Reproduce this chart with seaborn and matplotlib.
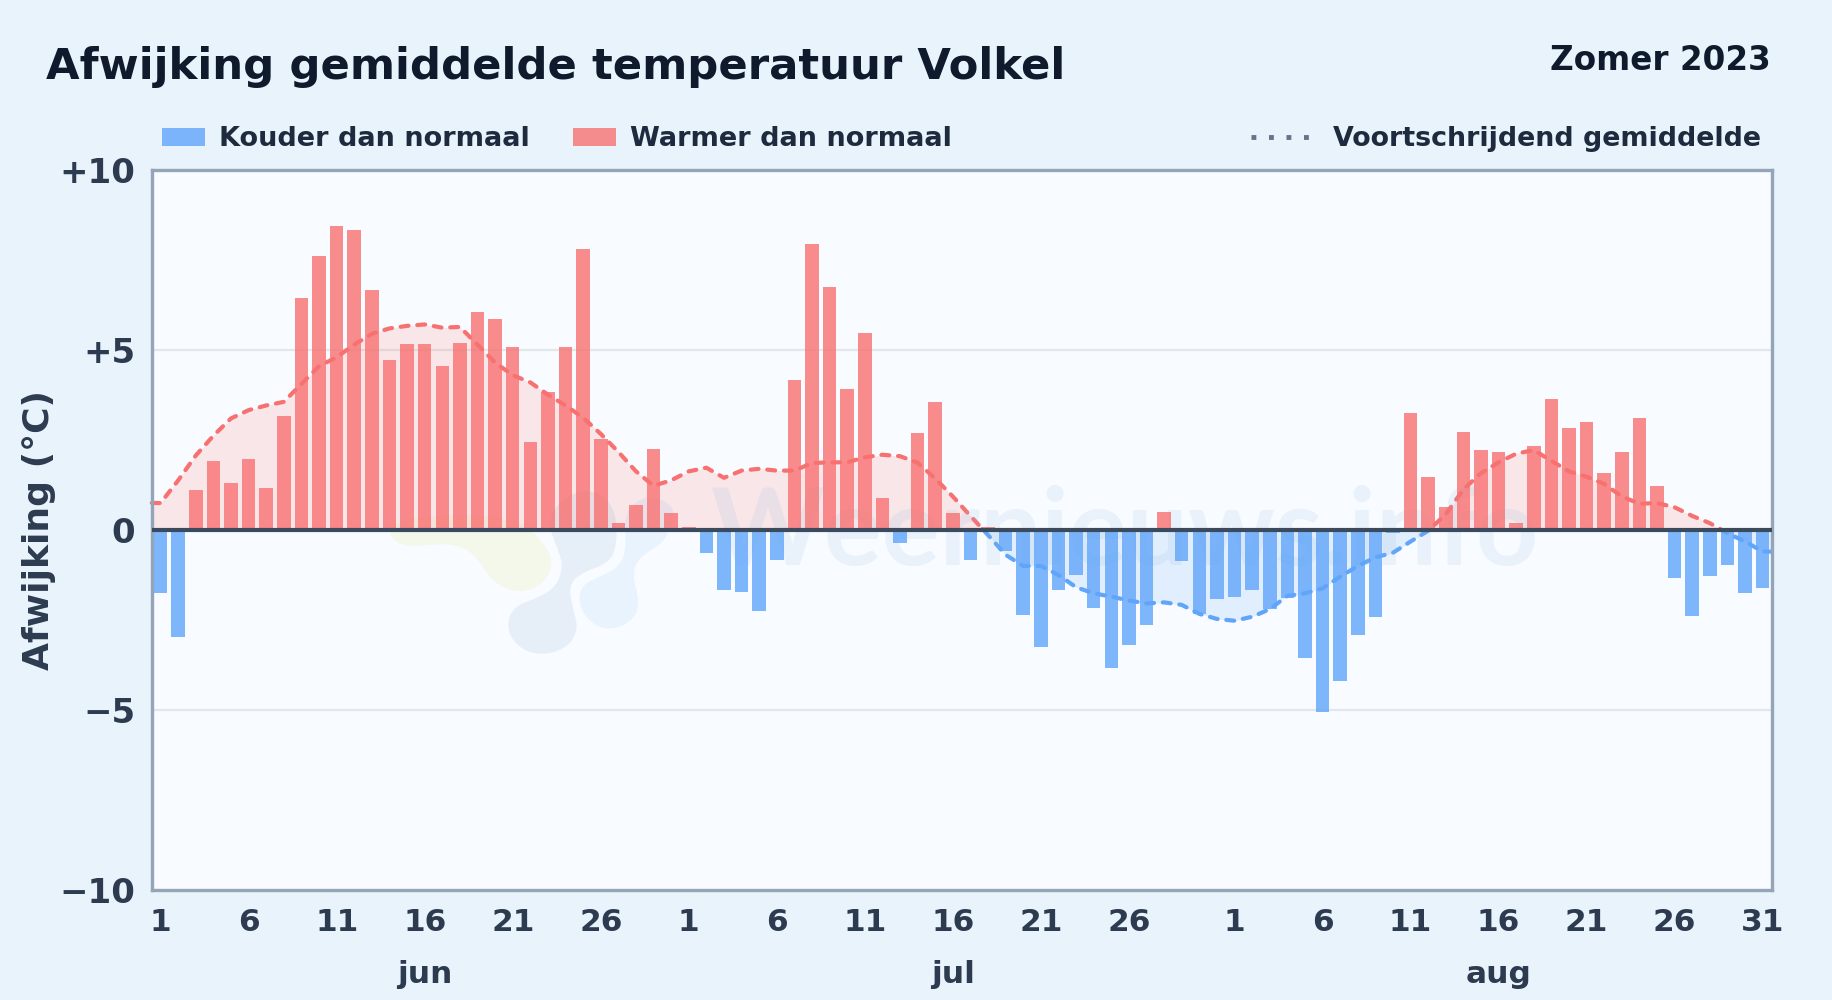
#!/usr/bin/env python

import numpy as np
import pandas as pd
import seaborn as sb
import matplotlib.pyplot as plt
from matplotlib.lines import Line2D
from matplotlib.patches import Patch, PathPatch, Rectangle
from matplotlib.path import Path

jun_values = [-1.74, -2.96, 1.11, 1.91, 1.31, 1.97, 1.17, 3.16, 6.45, 7.61,
              8.44, 8.33, 6.67, 4.72, 5.17, 5.17, 4.55, 5.2, 6.05, 5.86,
              5.08, 2.44, 3.83, 5.08, 7.81, 2.53, 0.2, 0.69, 2.25, 0.48]
jul_values = [0.08, -0.63, -1.66, -1.71, -2.24, -0.83, 4.17, 7.95, 6.75, 3.92,
              5.48, 0.89, -0.35, 2.7, 3.55, 0.48, -0.83, 0.08, -0.57, -2.35,
              -3.24, -1.66, -1.24, -2.16, -3.82, -3.19, -2.63, 0.5, -0.85, -2.33,
              -1.91]
aug_values = [-1.85, -1.66, -2.2, -1.9, -3.55, -5.05, -4.19, -2.91, -2.41, -0.09,
              3.25, 1.47, 0.63, 2.72, 2.22, 2.16, 0.2, 2.33, 3.64, 2.84,
              3.0, 1.59, 2.16, 3.11, 1.22, -1.32, -2.38, -1.27, -0.96, -1.74,
              -1.6]

jun_avg = [0.75, 1.38, 2.07, 2.62, 3.1, 3.33, 3.46, 3.56, 4.06, 4.55,
           4.8, 5.15, 5.45, 5.6, 5.67, 5.71, 5.62, 5.64, 5.15, 4.65,
           4.3, 4.1, 3.76, 3.46, 3.12, 2.67, 2.17, 1.63, 1.23, 1.38]
jul_avg = [1.63, 1.73, 1.45, 1.65, 1.7, 1.65, 1.65, 1.86, 1.88, 1.88,
           2.02, 2.09, 2.05, 1.87, 1.43, 0.93, 0.39, -0.14, -0.69, -1.0,
           -1.0, -1.25, -1.59, -1.76, -1.85, -1.96, -2.04, -2.01, -2.08, -2.33,
           -2.47]
aug_avg = [-2.52, -2.41, -2.2, -1.83, -1.76, -1.62, -1.3, -1.0, -0.76, -0.63,
           -0.32, -0.02, 0.44, 1.13, 1.58, 1.88, 2.12, 2.22, 1.92, 1.63,
           1.48, 1.28, 0.93, 0.73, 0.75, 0.63, 0.39, 0.19, -0.09, -0.32,
           -0.6]

month_names = ["jun", "jul", "aug"]
y_ticks = [-10, -5, 0, 5, 10]
y_labels = ["\u221210", "\u22125", "0", "+5", "+10"]

BG = "#e9f3fc"
RED = "#f87171"
BLUE = "#60a5fa"
TEXT = "#2d3b50"
DARK = "#0f1b2d"

# logo outlines, as pixels of a 3x crop starting at (360, 470)
logo_green = [(80, 190), (130, 232), (220, 222), (300, 225), (355, 265), (390, 330), (470, 372),
              (550, 345), (582, 280), (550, 215), (480, 150), (300, 130), (120, 150)]
logo_grey = [(770, 230), (745, 280), (660, 310), (625, 350), (640, 420), (655, 480), (620, 535),
             (540, 558), (470, 530), (438, 470), (460, 410), (530, 385), (590, 350), (610, 285),
             (590, 230), (560, 150), (620, 70), (720, 60), (770, 130)]
logo_blue = [(925, 190), (900, 225), (840, 260), (815, 310), (840, 400), (820, 450), (755, 482),
             (690, 460), (655, 400), (665, 345), (720, 320), (780, 290), (800, 230), (790, 130),
             (860, 70), (950, 110)]

values = jun_values + jul_values + aug_values
avg = jun_avg + jul_avg + aug_avg
days = list(range(1, 31)) + list(range(1, 32)) + list(range(1, 32))
pos = np.arange(len(values))
# the average runs on flat to both frame edges
line_x = np.r_[-0.5, pos, len(pos) - 0.5]
line_y = np.r_[avg[0], avg, avg[-1]]

df = pd.DataFrame({"pos": pos, "value": values})
df["sign"] = np.where(df["value"] < 0, "koud", "warm")


def add_blob(ax, outline, color):
    pts = np.array([(360 + x / 3, 470 + y / 3) for x, y in outline], dtype=float)
    pts = np.c_[(pts[:, 0] - 151.8) / 1619.7, (890 - pts[:, 1]) / 720]
    mids = (pts + np.roll(pts, -1, axis=0)) / 2
    verts = [mids[-1]]
    codes = [Path.MOVETO]
    for p, m in zip(pts, mids):
        verts += [p, m]
        codes += [Path.CURVE3, Path.CURVE3]
    ax.add_patch(PathPatch(Path(verts, codes), transform=ax.transAxes, facecolor=color, lw=0, zorder=0))


sb.set_theme(style="white")
plt.rcParams["font.family"] = ["DejaVu Sans"]
plt.rcParams["font.weight"] = "bold"

fig = plt.figure(figsize=(18.32, 10), dpi=100, facecolor=BG)
ax = fig.add_axes([151.8 / 1832, 1 - 890 / 1000, 1619.7 / 1832, 720 / 1000], facecolor="#f8fbff")

add_blob(ax, logo_green, "#f4f8ea")
add_blob(ax, logo_grey, "#e6eff8")
add_blob(ax, logo_blue, "#e8f3fd")

ax.axhline(5, color="#e1e7ea", lw=1.6, zorder=1)
ax.axhline(-5, color="#e1e7ea", lw=1.6, zorder=1)

# moving average, red part above zero and blue part below
for col, rect in [(RED, (-1, 0, 94, 11)), (BLUE, (-1, -11, 94, 11))]:
    clip = Rectangle(rect[:2], rect[2], rect[3], transform=ax.transData)
    band = ax.fill_between(line_x, line_y, 0, color=col, alpha=0.15, lw=0, zorder=1.5)
    band.set_clip_path(clip)
    sb.lineplot(x=line_x, y=line_y, ax=ax, color=col, lw=3, errorbar=None, zorder=2)
    line = ax.lines[-1]
    line.set_linestyle((0, (1.9, 2.1)))
    line.set_dash_capstyle("round")
    line.set_clip_path(clip)

ax.text(0.6006, 0.451, "Weernieuws.info", transform=ax.transAxes, ha="center", va="baseline",
        fontsize=78, fontfamily="Lato", fontweight="bold", color="#8fb6dc", alpha=0.14, zorder=2.5)

sb.barplot(data=df, x="pos", y="value", hue="sign", dodge=False, width=0.77, linewidth=0,
           palette={"koud": BLUE, "warm": RED}, alpha=0.8, legend=False,
           saturation=1, ax=ax, zorder=3)

ax.axhline(0, color="#3c4a5e", lw=3, zorder=4)

ax.set_xlim(-0.5, 91.5)
ax.set_ylim(-10, 10)
ax.set_xlabel(None)
ax.set_ylabel("Afwijking (\u00b0C)", fontsize=26, color=TEXT, fontweight="bold", labelpad=2)
ax.set_yticks(y_ticks, y_labels)
shown = [i for i, d in enumerate(days) if d in (1, 6, 11, 16, 21, 26) or i == len(days) - 1]
ax.set_xticks(shown, [str(days[i]) for i in shown])
ax.tick_params(axis="both", length=0, labelcolor=TEXT)
ax.tick_params(axis="x", pad=13, labelsize=22.5)
ax.tick_params(axis="y", pad=12, labelsize=24.5)
for s in ax.spines.values():
    s.set_color("#95a5b8")
    s.set_linewidth(2.4)
    s.set_visible(True)

for name, x in zip(month_names, [15, 45, 76]):
    ax.annotate(name, (x, 0), xycoords=("data", "axes fraction"), xytext=(0, -60.5),
                textcoords="offset points", ha="center", va="center", fontsize=22.5, color=TEXT)

fig.text(46 / 1832, 1 - 67 / 1000, "Afwijking gemiddelde temperatuur Volkel", fontsize=31.2,
         color=DARK, fontweight="bold", va="center")
fig.text(1771 / 1832, 1 - 61 / 1000, "Zomer 2023", fontsize=23.5, color=DARK,
         fontweight="bold", ha="right", va="center")

left = fig.legend(handles=[Patch(facecolor=BLUE, alpha=0.8, lw=0, label="Kouder dan normaal"),
                           Patch(facecolor=RED, alpha=0.8, lw=0, label="Warmer dan normaal")],
                  loc="center left", bbox_to_anchor=(162 / 1832, 1 - 139.5 / 1000), ncol=2,
                  frameon=False, fontsize=19.5, labelcolor="#1e2b3e", handlelength=1.6,
                  handleheight=0.6, handletextpad=0.5, columnspacing=1.6, borderpad=0, borderaxespad=0)
right = fig.legend(handles=[Line2D([], [], color="#64748b", lw=3.5, ls=(0, (1, 2.6)),
                                   label="Voortschrijdend gemiddelde")],
                   loc="center right", bbox_to_anchor=(1761 / 1832, 1 - 139.5 / 1000),
                   frameon=False, fontsize=19.4, labelcolor="#1e2b3e", handlelength=2.2,
                   handletextpad=0.85, borderpad=0, borderaxespad=0)

fig.savefig("out.png", dpi=100, facecolor=BG)
